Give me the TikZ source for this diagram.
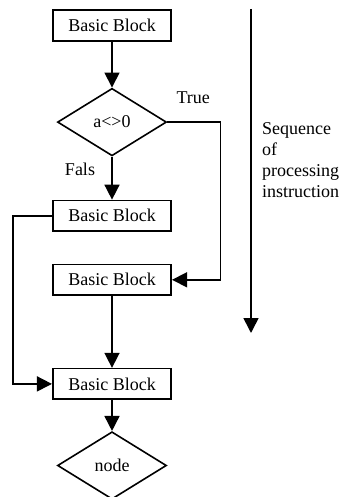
\documentclass[tikz,border=0pt]{standalone}
\usepackage{fontspec}
\setmainfont{Liberation Serif}
\usepackage{tikz}
\usetikzlibrary{arrows.meta,positioning,shapes.geometric}

\begin{document}
\begin{tikzpicture}[
    x=1pt, y=-1pt,
    font=\fontsize{18}{21}\selectfont,
    block/.style={rectangle, draw, line width=1.6pt, minimum width=118.5pt, minimum height=30.5pt, inner sep=0pt},
    decision/.style={diamond, draw, line width=1.6pt, minimum width=109pt, minimum height=67.5pt, inner sep=0pt},
    arrow/.style={-{Triangle[length=15pt,width=15pt]}, line width=1.6pt}
]
    \useasboundingbox (0,0) rectangle (340,497);

    \node[block] (b1) at (112,25.5) {Basic Block};
    \node[decision, below=46pt of b1] (d1) {a<>0};
    \node[block, below=43pt of d1] (b2) {Basic Block};
    \node[block, below=32pt of b2] (b3) {Basic Block};
    \node[block, below=72pt of b3] (b4) {Basic Block};
    \node[decision, below=31pt of b4] (d2) {node};

    \draw[arrow] (b1) -- (d1);
    \draw[arrow] (d1) -- (b2);
    \draw[arrow] (d1.east) -- ++(53,0) |- (b3.east);
    \draw[arrow] (b3) -- (b4);
    \draw[arrow] (b2.west) -- ++(-39,0) |- (b4.west);
    \draw[arrow] (b4) -- (d2);

    \node[xshift=26pt, yshift=24pt] (truelbl) at (d1.east) {True};
    \node[xshift=-32pt, yshift=-13pt] (falslbl) at (d1.south) {Fals};

    % order of execution
    \coordinate (seqtop) at (251,9);
    \coordinate (seqend) at (251,333);
    \draw[arrow] (seqtop) -- (seqend);
    \node[anchor=west, align=left, inner sep=0pt] (seqlbl) at (262,160) {Sequence\\of\\processing\\instruction};
\end{tikzpicture}
\end{document}
